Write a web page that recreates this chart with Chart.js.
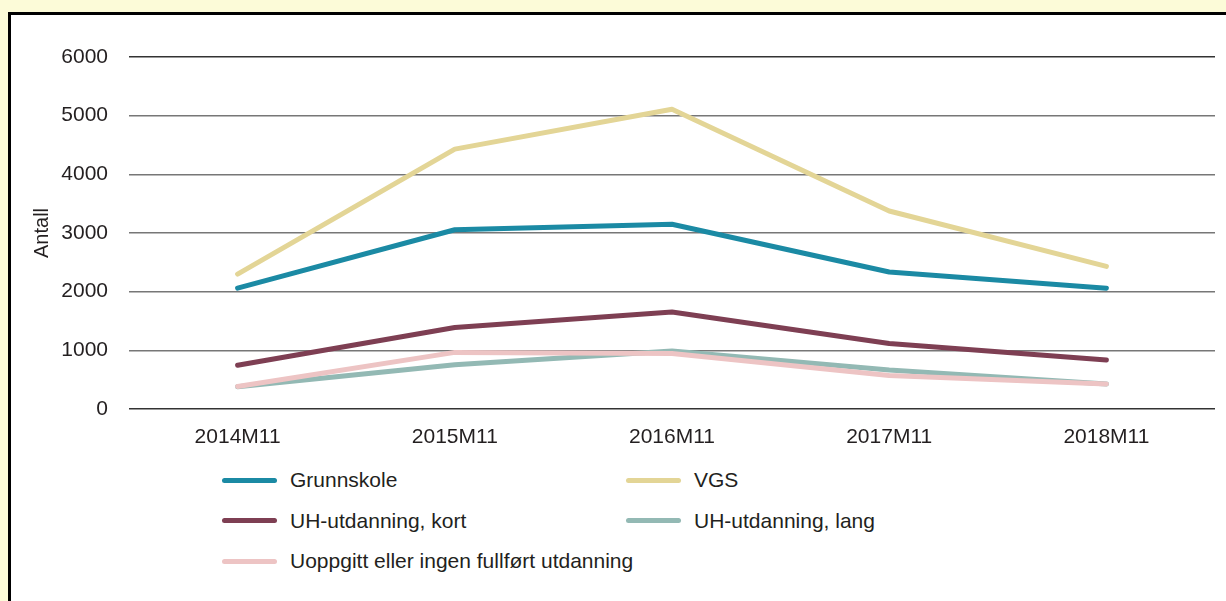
<!DOCTYPE html>
<html>
<head>
<meta charset="utf-8">
<script src="https://cdn.jsdelivr.net/npm/chart.js@4.4.1/dist/chart.umd.min.js"></script>
<style>
  html, body { margin: 0; padding: 0; }
  body { width: 1226px; height: 601px; background: #fcfbd8; position: relative; overflow: hidden; font-family: "Liberation Sans", Arial, sans-serif; }
  #panel { position: absolute; left: 8px; top: 12px; width: 1218px; height: 589px; background: #fff; }
  #edgeTop { position: absolute; left: 8px; top: 12px; width: 1218px; height: 3px; background: #000; }
  #edgeLeft { position: absolute; left: 8px; top: 12px; width: 3px; height: 589px; background: #000; }
  #wrap { position: absolute; left: 0; top: 0; width: 1226px; height: 460px; }
  #legend { position: absolute; left: 222px; top: 460px; width: 860px; display: grid; grid-template-columns: 404px 404px; grid-auto-rows: 40.5px; }
  .item { display: flex; align-items: center; font-size: 21px; color: #231f20; white-space: nowrap; }
  .swatch { flex: none; width: 55px; height: 5px; border-radius: 3px; margin-right: 13px; }
</style>
</head>
<body>
<div id="panel"></div>
<div id="edgeTop"></div>
<div id="edgeLeft"></div>
<div id="wrap"><canvas id="chart" width="1226" height="460"></canvas></div>
<div id="legend"></div>
<script>
// Categories and series
const periods = ['2014M11', '2015M11', '2016M11', '2017M11', '2018M11'];
const grunnskole = [2060, 3055, 3150, 2335, 2060];
const vgs = [2300, 4430, 5110, 3375, 2430];
const uhKort = [745, 1390, 1655, 1115, 835];
const uhLang = [380, 755, 990, 665, 426];
const uoppgitt = [385, 965, 945, 570, 426];

const seriesNames = ['Grunnskole', 'VGS', 'UH-utdanning, kort', 'UH-utdanning, lang', 'Uoppgitt eller ingen fullført utdanning'];
const seriesValues = [grunnskole, vgs, uhKort, uhLang, uoppgitt];
const seriesColors = ['#1b8aa4', '#e3d596', '#7e3f53', '#93b9b4', '#edc4c4'];

const yTicks = [0, 1000, 2000, 3000, 4000, 5000, 6000];

const datasets = seriesNames.map((name, i) => ({
    label: name,
    data: seriesValues[i],
    borderColor: seriesColors[i],
    backgroundColor: seriesColors[i],
    borderWidth: 5,
    borderCapStyle: 'round',
    borderJoinStyle: 'round',
    pointRadius: 0,
    tension: 0,
    fill: false,
    order: seriesNames.length - 1 - i
}));

const tickFont = { size: 21, family: '"Liberation Sans", Arial' };

const ctx = document.getElementById('chart').getContext('2d');
new Chart(ctx, {
    type: 'line',
    data: { labels: periods, datasets: datasets },
    options: {
        responsive: false,
        animation: false,
        layout: { padding: { top: 57, right: 11, bottom: 11, left: 0 } },
        plugins: { legend: { display: false }, tooltip: { enabled: false } },
        scales: {
            x: {
                offset: true,
                grid: { display: false, drawTicks: false },
                border: { display: false },
                ticks: { padding: 16, color: '#231f20', font: tickFont },
                afterFit: (scale) => { scale.height = 40; }
            },
            y: {
                min: 0,
                max: 6000,
                afterBuildTicks: (scale) => { scale.ticks = yTicks.map(v => ({ value: v })); },
                grid: {
                    drawTicks: false,
                    color: (c) => (c.tick && (c.tick.value === 6000 || c.tick.value === 0)) ? '#333' : '#777',
                    lineWidth: 1.5
                },
                border: { display: false },
                ticks: {
                    padding: 21,
                    color: '#231f20',
                    font: tickFont,
                    callback: (v) => String(v)
                },
                title: {
                    display: true,
                    text: 'Antall',
                    color: '#231f20',
                    font: { size: 20, family: '"Liberation Sans", Arial' },
                    padding: { top: 30, bottom: 0 }
                },
                afterFit: (scale) => { scale.width = 129; }
            }
        }
    }
});

// HTML legend in two columns
const legend = document.getElementById('legend');
seriesNames.forEach((name, i) => {
    const item = document.createElement('div');
    item.className = 'item';
    const sw = document.createElement('span');
    sw.className = 'swatch';
    sw.style.background = seriesColors[i];
    item.appendChild(sw);
    item.appendChild(document.createTextNode(name));
    legend.appendChild(item);
});
</script>
</body>
</html>
